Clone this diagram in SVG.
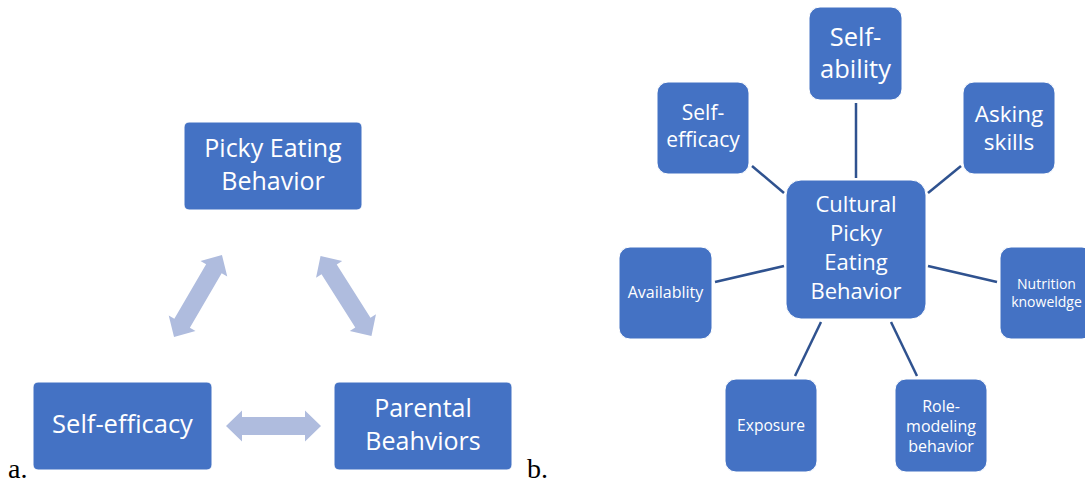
<svg xmlns="http://www.w3.org/2000/svg" width="1085" height="483" viewBox="0 0 1085 483">
<style>
.box{fill:#4472C4;stroke:#ffffff;stroke-width:1}
.t{fill:#ffffff;font-family:"Open Sans","Noto Sans",sans-serif;text-anchor:middle}
.arr{fill:#AFBCDE}
.ln{stroke:#2F528F;stroke-width:2.5;fill:none}
.lbl{fill:#000;font-family:"Liberation Serif","Times New Roman",serif;font-size:28px}
</style>
<defs>
<path id="dbl" d="M-47.5,0 L-31.5,-15.5 L-31.5,-9 L31.5,-9 L31.5,-15.5 L47.5,0 L31.5,15.5 L31.5,9 L-31.5,9 L-31.5,15.5 Z"/>
</defs>
<rect width="1085" height="483" fill="#ffffff"/>

<!-- Part a -->
<g id="connectors-a">
<use href="#dbl" class="arr" transform="translate(198,296) rotate(-59.7)"/>
<use href="#dbl" class="arr" transform="translate(346,296) rotate(57.6)"/>
<use href="#dbl" class="arr" transform="translate(273.5,426)"/>
</g>
<g id="a-picky">
<rect class="box" x="184" y="122" width="178" height="88" rx="5"/>
<text class="t" font-size="25" x="273" y="157">Picky Eating</text>
<text class="t" font-size="25" x="273" y="190">Behavior</text>
</g>
<g id="a-selfefficacy">
<rect class="box" x="33" y="382" width="179" height="88" rx="5"/>
<text class="t" font-size="25.5" x="122.5" y="433">Self-efficacy</text>
</g>
<g id="a-parental">
<rect class="box" x="334" y="382" width="178" height="88" rx="5"/>
<text class="t" font-size="25" x="423" y="417">Parental</text>
<text class="t" font-size="25" x="423" y="450">Beahviors</text>
</g>
<text class="lbl" x="8" y="478">a.</text>
<text class="lbl" x="527" y="478">b.</text>

<!-- Part b -->
<g id="connectors-b">
<line class="ln" x1="856" y1="103" x2="856" y2="178"/>
<line class="ln" x1="752" y1="166" x2="784" y2="193"/>
<line class="ln" x1="961" y1="166" x2="928" y2="193"/>
<line class="ln" x1="715" y1="282" x2="784" y2="266"/>
<line class="ln" x1="928" y1="266" x2="997" y2="282"/>
<line class="ln" x1="821" y1="322" x2="795" y2="376"/>
<line class="ln" x1="891" y1="322" x2="917" y2="376"/>
</g>
<g id="b-center">
<rect class="box" x="786" y="180" width="140" height="139" rx="15"/>
<text class="t" font-size="22" x="856" y="212">Cultural</text>
<text class="t" font-size="22" x="856" y="241">Picky</text>
<text class="t" font-size="22" x="856" y="270">Eating</text>
<text class="t" font-size="22" x="856" y="299">Behavior</text>
</g>
<g id="b-selfability">
<rect class="box" x="809" y="7" width="93" height="93" rx="11"/>
<text class="t" font-size="25.5" x="855.5" y="46">Self-</text>
<text class="t" font-size="25.5" x="855.5" y="78">ability</text>
</g>
<g id="b-selfefficacy">
<rect class="box" x="657" y="82" width="92" height="92" rx="11"/>
<text class="t" font-size="21" x="703" y="120">Self-</text>
<text class="t" font-size="21" x="703" y="147">efficacy</text>
</g>
<g id="b-asking">
<rect class="box" x="963" y="82" width="92" height="92" rx="11"/>
<text class="t" font-size="22.5" x="1009" y="122">Asking</text>
<text class="t" font-size="22.5" x="1009" y="150">skills</text>
</g>
<g id="b-availability">
<rect class="box" x="619" y="247" width="93" height="92" rx="11"/>
<text class="t" font-size="16" x="665.5" y="298">Availablity</text>
</g>
<g id="b-nutrition">
<rect class="box" x="1000" y="247" width="93" height="92" rx="11"/>
<text class="t" font-size="14" x="1046.5" y="289">Nutrition</text>
<text class="t" font-size="14" x="1046.5" y="307">knoweldge</text>
</g>
<g id="b-exposure">
<rect class="box" x="725" y="379" width="92" height="93" rx="11"/>
<text class="t" font-size="15.6" x="771" y="431">Exposure</text>
</g>
<g id="b-role">
<rect class="box" x="895" y="379" width="92" height="93" rx="11"/>
<text class="t" font-size="16" x="941" y="412">Role-</text>
<text class="t" font-size="16" x="941" y="432">modeling</text>
<text class="t" font-size="16" x="941" y="452">behavior</text>
</g>
</svg>
